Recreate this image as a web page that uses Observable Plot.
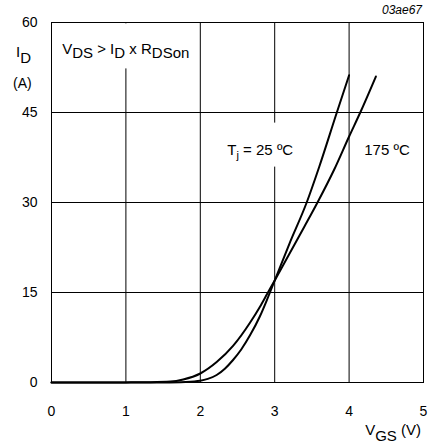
<!DOCTYPE html>
<html>
<head>
<meta charset="utf-8">
<script src="https://cdn.jsdelivr.net/npm/d3@7"></script>
<script src="https://cdn.jsdelivr.net/npm/@observablehq/plot@0.6"></script>
<style>
  html, body { margin: 0; padding: 0; background: #fff; }
  #chart svg { display: block; }
</style>
</head>
<body>
<div id="chart"></div>
<script>
// ---- data ----
const xTicks = [0, 1, 2, 3, 4, 5];
const yTicks = [0, 15, 30, 45, 60];

const vgs25 = [0, 0.5, 1.0, 1.5, 1.8, 2.0, 2.1, 2.22, 2.33, 2.44, 2.55, 2.67, 2.8, 2.9, 3.0, 3.2, 3.43, 3.6, 3.835, 4.0];
const id25  = [0, 0, 0, 0.02, 0.1, 0.3, 0.6, 1.25, 2.3, 3.75, 5.5, 7.9, 11.0, 13.9, 17.0, 23.2, 30, 36, 45, 51.2];

const vgs175 = [0, 0.5, 1.0, 1.3, 1.6, 1.77, 2.0, 2.22, 2.44, 2.67, 2.8, 2.9, 3.0, 3.2, 3.4, 3.575, 3.8, 4.0, 4.15, 4.36];
const id175  = [0, 0, 0.02, 0.05, 0.15, 0.5, 1.5, 3.4, 6.1, 10.0, 12.6, 14.8, 17.0, 21.5, 26, 30, 35.5, 41, 45, 51];

const seriesNames = ["25", "175"];

const data = [
  ...vgs25.map((v, i) => ({ series: seriesNames[0], vgs: v, id: id25[i] })),
  ...vgs175.map((v, i) => ({ series: seriesNames[1], vgs: v, id: id175[i] }))
];

const FONT = "'Liberation Sans', Arial, Helvetica, sans-serif";

const plot = Plot.plot({
  width: 428,
  height: 448,
  marginLeft: 51,
  marginRight: 5,
  marginTop: 22,
  marginBottom: 66,
  style: { fontFamily: FONT, fontSize: "14px", color: "black", background: "white", overflow: "visible" },
  x: { domain: [0, 5], label: null },
  y: { domain: [0, 60], label: null },
  marks: [
    Plot.ruleX(xTicks.slice(1, -1), { stroke: "black", strokeWidth: 1 }),
    Plot.ruleY(yTicks.slice(1, -1), { stroke: "black", strokeWidth: 1 }),
    Plot.line(data, { x: "vgs", y: "id", z: "series", curve: "monotone-x", stroke: "black", strokeWidth: 2 }),
    Plot.frame({ stroke: "black", strokeWidth: 1 }),
    Plot.axisX({ ticks: xTicks, tickFormat: d3.format("d"), tickSize: 0, tickPadding: 24, label: null, fontSize: 14 }),
    Plot.axisY({ ticks: yTicks, tickFormat: d3.format("d"), tickSize: 0, tickPadding: 14, label: null, fontSize: 14 })
  ]
});

document.getElementById("chart").appendChild(plot);

// ---- annotations ----
const sx = plot.scale("x"), sy = plot.scale("y");
const svgNS = "http://www.w3.org/2000/svg";
const lineG = plot.querySelector('g[aria-label="line"]');
const boxG = document.createElementNS(svgNS, "g");
plot.insertBefore(boxG, lineG);
const textG = d3.select(plot).append("g").attr("font-family", FONT).attr("fill", "black");

// parts: [text, baselineShiftPx, fontSize]
function addText(px, py, parts, opts = {}) {
  const t = textG.append("text")
    .attr("x", px).attr("y", py)
    .attr("font-size", opts.size || 15)
    .attr("text-anchor", opts.anchor || "start");
  if (opts.italic) t.attr("font-style", "italic");
  let cur = 0;
  for (const [s, shift, fs] of parts) {
    const ts = t.append("tspan").attr("dy", shift - cur).text(s);
    if (fs) ts.attr("font-size", fs);
    cur = shift;
  }
  return t;
}
function box(t, pad) {
  const b = t.node().getBBox();
  d3.select(boxG).append("rect")
    .attr("x", b.x - pad[3]).attr("y", b.y - pad[0])
    .attr("width", b.width + pad[1] + pad[3])
    .attr("height", b.height + pad[0] + pad[2])
    .attr("fill", "white");
}

// label positions in data units
const condPos = { vgs: 0.15, id: 54.6 };
const t25Pos = { vgs: 2.37, id: 37.9 };
const t175Pos = { vgs: 4.21, id: 37.9 };

const cond = addText(sx.apply(condPos.vgs), sy.apply(condPos.id),
  [["V", 0], ["DS", 4], [" > I", 0], ["D", 4], [" x R", 0], ["DSon", 4]], { size: 15 });
box(cond, [17, 6, 7, 10]);

const t25 = addText(sx.apply(t25Pos.vgs), sy.apply(t25Pos.id),
  [["T", 0], ["j", 4, 11], [" = 25 ºC", 0]], { size: 15 });
box(t25, [18, 6, 6, 6]);

addText(sx.apply(t175Pos.vgs), sy.apply(t175Pos.id), [["175 ºC", 0]], { size: 15 });

// axis titles (outside plot area)
addText(16, 57, [["I", 0], ["D", 6]], { size: 15 });
addText(13, 88, [["(A)", 0]], { size: 14 });
addText(421, 435, [["V", 0], ["GS", 6], [" (V)", 0]], { size: 15, anchor: "end" });

// figure code
addText(422, 14, [["03ae67", 0]], { size: 12, anchor: "end", italic: true });
</script>
</body>
</html>
